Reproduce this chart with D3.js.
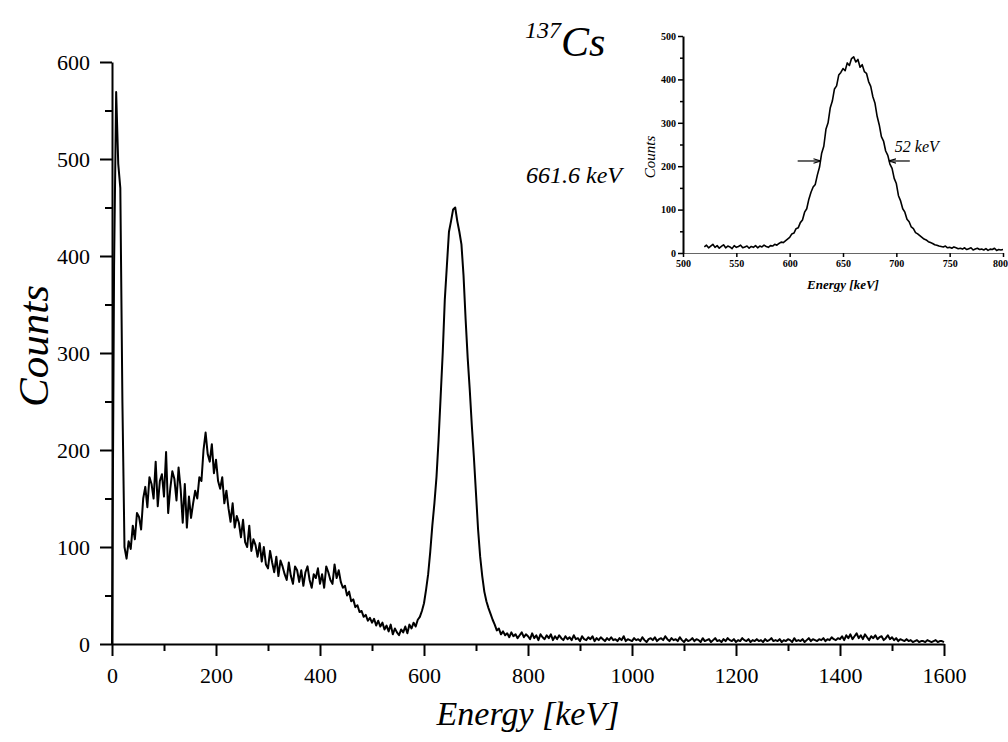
<!DOCTYPE html>
<html>
<head>
<meta charset="utf-8">
<script src="https://cdn.jsdelivr.net/npm/d3@7"></script>
<style>
  body { margin: 0; background: #fff; }
  svg text { font-family: "Liberation Serif", "Times New Roman", serif; fill: #000; }
</style>
</head>
<body>
<script>
// 137Cs spectrum, counts per 4 keV channel from 0 to 1600 keV
const channelWidth = 4;
const counts = [
  0, 390, 569, 495, 470, 250, 100, 88, 106, 98,
  122, 108, 135, 131, 118, 150, 162, 141, 172, 165,
  150, 188, 142, 168, 175, 152, 198, 135, 160, 178,
  170, 148, 182, 160, 125, 165, 120, 152, 130, 145,
  158, 150, 172, 168, 200, 218, 196, 188, 206, 176,
  190, 168, 160, 172, 145, 158, 140, 126, 145, 120,
  132, 125, 110, 128, 105, 100, 122, 96, 108, 102,
  90, 104, 85, 100, 82, 78, 96, 84, 74, 90,
  70, 86, 80, 72, 66, 84, 70, 62, 80, 76,
  64, 76, 60, 74, 80, 66, 58, 72, 68, 78,
  62, 72, 58, 80, 74, 66, 62, 82, 68, 76,
  64, 58, 60, 50, 54, 44, 46, 38, 40, 33,
  34, 28, 30, 24, 27, 22, 26, 19, 24, 18,
  22, 15, 19, 13, 20, 10, 16, 12, 9, 15,
  12, 18, 11, 20, 16, 22, 18, 25, 28, 34,
  42, 56, 72, 95, 122, 145, 172, 210, 255, 300,
  355, 390, 425, 436, 448, 450, 436, 425, 412, 380,
  335, 295, 262, 225, 192, 155, 118, 90, 70, 54,
  44, 37, 31, 25, 20, 14, 16, 10, 13, 9,
  11, 7, 12, 8, 10, 6, 9, 12, 7, 10,
  8, 5, 11, 6, 9, 4, 10, 7, 5, 9,
  6, 10, 4, 8, 5, 9, 6, 4, 8, 5,
  7, 4, 9, 5, 6, 3, 8, 5, 4, 7,
  5, 8, 3, 6, 4, 7, 5, 3, 6, 4,
  7, 4, 5, 3, 6, 4, 8, 3, 5, 4,
  3, 6, 4, 5, 3, 7, 4, 2, 5, 6,
  4, 7, 3, 5, 6, 4, 8, 5, 3, 6,
  4, 5, 3, 7, 4, 2, 5, 3, 4, 6,
  3, 5, 4, 2, 6, 3, 4, 5, 2, 4,
  6, 3, 4, 2, 5, 3, 6, 4, 3, 5,
  2, 4, 3, 6, 4, 3, 5, 2, 4, 3,
  5, 3, 4, 2, 5, 3, 4, 6, 3, 4,
  3, 5, 2, 4, 3, 5, 4, 2, 6, 3,
  4, 3, 5, 2, 4, 6, 3, 5, 4, 3,
  5, 4, 6, 3, 5, 4, 7, 5, 4, 6,
  5, 8, 4, 9, 6, 10, 5, 8, 11, 6,
  9, 5, 10, 7, 4, 8, 6, 9, 5, 7,
  8, 4, 6, 9, 5, 7, 4, 6, 3, 5,
  4, 3, 5, 3, 4, 2, 3, 4, 2, 3,
  3, 2, 4, 3, 2, 3, 4, 2, 3, 3, 2
];

// inset: photopeak, 2 keV channels from 520 keV
const insetStart = 520;
const insetChannel = 2;
const insetCounts = [
  14, 18, 12, 16, 20, 13, 17, 11, 15, 19,
  12, 16, 14, 10, 17, 13, 15, 18, 12, 14,
  16, 11, 15, 13, 17, 12, 16, 14, 18, 15,
  13, 17, 16, 20, 18, 22, 25, 24, 28, 32,
  36, 44, 46, 56, 58, 70, 76, 94, 102, 124,
  140, 152, 158, 180, 198, 230, 246, 285, 300, 334,
  350, 378, 385, 410, 416, 425, 420, 438, 432, 448,
  452, 440, 446, 428, 434, 418, 414, 395, 384, 360,
  345, 315, 295, 268, 258, 235, 225, 205, 195, 172,
  160, 132, 120, 102, 94, 78, 72, 60, 56, 47,
  44, 40, 36, 32, 30, 26, 24, 22, 19, 18,
  16, 15, 14, 16, 12, 13, 11, 14, 12, 10,
  11, 9, 12, 8, 10, 12, 7, 9, 11, 8,
  9, 7, 10, 6, 9, 8, 11, 6, 8, 7,
  8
];

const xTicks = [0, 200, 400, 600, 800, 1000, 1200, 1400, 1600];
const xMinor = [100, 300, 500, 700, 900, 1100, 1300, 1500];
const yTicks = [0, 100, 200, 300, 400, 500, 600];
const yMinor = [50, 150, 250, 350, 450, 550];
const insetXTicks = [500, 550, 600, 650, 700, 750, 800];
const insetYTicks = [0, 100, 200, 300, 400, 500];
const insetYMinor = [50, 150, 250, 350, 450];

const peakLabel = "661.6 keV";
const fwhm = { left: 630, right: 692, level: 212, text: "52 keV" };

const width = 1008, height = 742;
const serif = "Liberation Serif, Times New Roman, serif";

const svg = d3.select("body").append("svg")
    .attr("width", width)
    .attr("height", height)
    .attr("viewBox", [0, 0, width, height]);

// ---------- main chart ----------
const x = d3.scaleLinear().domain([0, 1600]).range([112, 944]);
const y = d3.scaleLinear().domain([0, 600]).range([644, 62]);

const gx = svg.append("g")
    .attr("transform", `translate(0,${y(0)})`)
    .call(d3.axisBottom(x).tickValues(xTicks).tickFormat(d3.format("d"))
        .tickSize(12).tickSizeOuter(0).tickPadding(11))
    .attr("font-family", serif)
    .attr("font-size", 22);
gx.select(".domain").attr("stroke-width", 2);
gx.selectAll(".tick line").attr("stroke-width", 2);

svg.append("g")
    .attr("transform", `translate(0,${y(0)})`)
    .call(d3.axisBottom(x).tickValues(xMinor).tickSize(7).tickFormat(""))
    .call(g => g.select(".domain").remove())
    .selectAll(".tick line").attr("stroke-width", 2);

const gy = svg.append("g")
    .attr("transform", `translate(${x(0)},0)`)
    .call(d3.axisLeft(y).tickValues(yTicks).tickFormat(d3.format("d"))
        .tickSize(12).tickSizeOuter(0).tickPadding(10))
    .attr("font-family", serif)
    .attr("font-size", 22);
gy.select(".domain").attr("stroke-width", 2);
gy.selectAll(".tick line").attr("stroke-width", 2);

svg.append("g")
    .attr("transform", `translate(${x(0)},0)`)
    .call(d3.axisLeft(y).tickValues(yMinor).tickSize(7).tickFormat(""))
    .call(g => g.select(".domain").remove())
    .selectAll(".tick line").attr("stroke-width", 2);

const line = d3.line()
    .x((d, i) => x(i * channelWidth))
    .y(d => y(d));

svg.append("path")
    .datum(counts)
    .attr("fill", "none")
    .attr("stroke", "#000")
    .attr("stroke-width", 2)
    .attr("stroke-linejoin", "round")
    .attr("d", line);

// title 137Cs
const title = svg.append("text")
    .attr("x", 525)
    .attr("y", 56)
    .attr("font-style", "italic");
title.append("tspan")
    .attr("font-size", 24)
    .attr("dy", -18)
    .text("137");
title.append("tspan")
    .attr("font-size", 42)
    .attr("dy", 18)
    .text("Cs");

// peak label
svg.append("text")
    .attr("x", x(661.6) + 70)
    .attr("y", 183)
    .attr("font-size", 24)
    .attr("font-style", "italic")
    .text(peakLabel);

// axis titles
svg.append("text")
    .attr("x", (x(0) + x(1600)) / 2)
    .attr("y", 725)
    .attr("text-anchor", "middle")
    .attr("font-size", 34)
    .attr("font-style", "italic")
    .text("Energy [keV]");

svg.append("text")
    .attr("transform", `translate(48,346) rotate(-90)`)
    .attr("text-anchor", "middle")
    .attr("font-size", 43)
    .attr("font-style", "italic")
    .text("Counts");

// ---------- inset ----------
const ix = d3.scaleLinear().domain([500, 800]).range([683, 1003]);
const iy = d3.scaleLinear().domain([0, 500]).range([253, 36]);

const igx = svg.append("g")
    .attr("transform", `translate(0,${iy(0)})`)
    .call(d3.axisBottom(ix).tickValues(insetXTicks).tickSize(4).tickSizeOuter(0).tickPadding(3))
    .attr("font-family", serif)
    .attr("font-size", 10)
    .attr("font-weight", "bold");
igx.select(".domain").attr("stroke", "#666").attr("stroke-width", 1.2);
igx.selectAll(".tick line").attr("stroke-width", 1.5);
// keep the last label inside the page
igx.selectAll(".tick text").filter(d => d === 800).attr("dx", -3);

const igy = svg.append("g")
    .attr("transform", `translate(${ix(500)},0)`)
    .call(d3.axisLeft(iy).tickValues(insetYTicks).tickSize(5).tickSizeOuter(0).tickPadding(2))
    .attr("font-family", serif)
    .attr("font-size", 10)
    .attr("font-weight", "bold");
igy.select(".domain").attr("stroke-width", 2);
igy.selectAll(".tick line").attr("stroke-width", 1.5);

svg.append("g")
    .attr("transform", `translate(${ix(500)},0)`)
    .call(d3.axisLeft(iy).tickValues(insetYMinor).tickSize(3).tickFormat(""))
    .call(g => g.select(".domain").remove())
    .selectAll(".tick line").attr("stroke-width", 1.5);

const iline = d3.line()
    .x((d, i) => ix(insetStart + i * insetChannel))
    .y(d => iy(d));

svg.append("path")
    .datum(insetCounts)
    .attr("fill", "none")
    .attr("stroke", "#000")
    .attr("stroke-width", 1.6)
    .attr("stroke-linejoin", "round")
    .attr("d", iline);

// FWHM arrows
svg.append("defs").append("marker")
    .attr("id", "arrowhead")
    .attr("viewBox", "0 0 10 10")
    .attr("refX", 10)
    .attr("refY", 5)
    .attr("markerWidth", 6)
    .attr("markerHeight", 6)
    .attr("orient", "auto")
    .append("path")
    .attr("d", "M0,2L10,5L0,8")
    .attr("fill", "none")
    .attr("stroke", "#000")
    .attr("stroke-width", 1.5);

svg.append("line")
    .attr("x1", ix(fwhm.left) - 24).attr("x2", ix(fwhm.left) - 1)
    .attr("y1", iy(fwhm.level)).attr("y2", iy(fwhm.level))
    .attr("stroke", "#000").attr("stroke-width", 1.2)
    .attr("marker-end", "url(#arrowhead)");

svg.append("line")
    .attr("x1", ix(fwhm.right) + 22).attr("x2", ix(fwhm.right) + 1)
    .attr("y1", iy(fwhm.level)).attr("y2", iy(fwhm.level))
    .attr("stroke", "#000").attr("stroke-width", 1.2)
    .attr("marker-end", "url(#arrowhead)");

svg.append("text")
    .attr("x", ix(fwhm.right) + 7)
    .attr("y", 152)
    .attr("font-size", 16)
    .attr("font-style", "italic")
    .text(fwhm.text);

svg.append("text")
    .attr("x", 843)
    .attr("y", 289)
    .attr("text-anchor", "middle")
    .attr("font-size", 13)
    .attr("font-style", "italic")
    .attr("font-weight", "bold")
    .text("Energy [keV]");

svg.append("text")
    .attr("transform", `translate(655,157) rotate(-90)`)
    .attr("text-anchor", "middle")
    .attr("font-size", 15)
    .attr("font-style", "italic")
    .text("Counts");
</script>
</body>
</html>
